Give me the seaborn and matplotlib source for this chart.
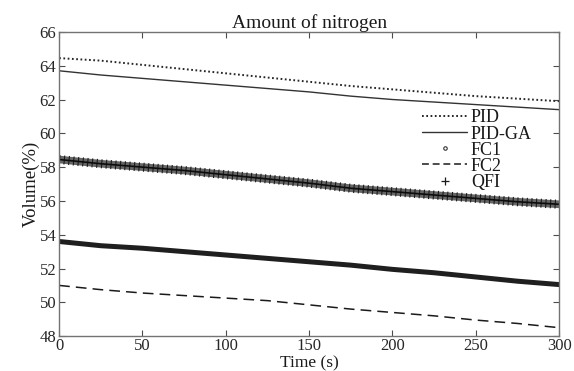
import pandas as pd
import seaborn as sns
import matplotlib.pyplot as plt
from matplotlib.lines import Line2D

# values (every 25 s)
time_s = [0, 25, 50, 75, 100, 125, 150, 175, 200, 225, 250, 275, 300]
pid = [64.45, 64.3, 64.05, 63.8, 63.55, 63.3, 63.05, 62.8, 62.6, 62.4, 62.2, 62.05, 61.9]
pid_ga = [63.7, 63.45, 63.25, 63.05, 62.85, 62.65, 62.45, 62.2, 62.0, 61.85, 61.7, 61.55, 61.4]
fc1 = [53.6, 53.35, 53.2, 53.0, 52.8, 52.6, 52.4, 52.2, 51.95, 51.75, 51.5, 51.25, 51.05]
fc2 = [51.0, 50.75, 50.55, 50.4, 50.25, 50.1, 49.85, 49.6, 49.4, 49.2, 48.95, 48.75, 48.5]
qfi = [58.45, 58.2, 58.0, 57.8, 57.55, 57.3, 57.05, 56.75, 56.55, 56.35, 56.15, 55.95, 55.8]

df = pd.DataFrame({'Time': time_s, 'PID': pid, 'PID-GA': pid_ga,
                   'FC1': fc1, 'FC2': fc2, 'QFI': qfi})

sns.set_style('ticks')
plt.rcParams['font.family'] = ['Liberation Serif', 'DejaVu Serif']

fig = plt.figure(figsize=(5.74, 3.71), dpi=100)
ax = fig.add_axes([0.103, 0.094, 0.871, 0.820])

# PID dotted
sns.lineplot(data=df, x='Time', y='PID', ax=ax, color='0.15', lw=1.4,
             linestyle=(0, (0.9, 1.3)))
# PID-GA solid
sns.lineplot(data=df, x='Time', y='PID-GA', ax=ax, color='0.2', lw=1.0)
# QFI: dense '+' markers -> thick band with vertical strokes
sns.lineplot(data=df, x='Time', y='QFI', ax=ax, color='0.4', lw=5.5)
sns.lineplot(data=df, x='Time', y='QFI', ax=ax, color='0.1', lw=6.5,
             linestyle=(0, (0.12, 0.4)))
sns.lineplot(data=df, x='Time', y='QFI', ax=ax, color='0.05', lw=1.2)
# FC1: dense 'o' markers -> thick dark line
sns.lineplot(data=df, x='Time', y='FC1', ax=ax, color='0.12', lw=3.6)
# FC2 dashed
sns.lineplot(data=df, x='Time', y='FC2', ax=ax, color='0.1', lw=1.1,
             linestyle=(0, (7, 4)))

ax.set_xlim(0, 300)
ax.set_ylim(48, 66)
ax.set_xticks(range(0, 301, 50))
ax.set_yticks(range(48, 67, 2))
ax.tick_params(direction='in', length=4, width=0.8, color='0.3',
               top=True, right=True, labelsize=12, pad=2, labelcolor='0.15')
ax.tick_params(axis='x', pad=1)
for s in ax.spines.values():
    s.set_color('0.45')
    s.set_linewidth(1.0)

ax.set_title('Amount of nitrogen', fontsize=14, pad=3, color='0.1')
ax.set_xlabel('Time (s)', fontsize=12.5, labelpad=1, color='0.1')
ax.set_ylabel('Volume(%)', fontsize=13.5, labelpad=0, color='0.1')

handles = [
    Line2D([], [], color='0.15', lw=1.4, linestyle=(0, (0.9, 1.3))),
    Line2D([], [], color='0.2', lw=1.0),
    Line2D([], [], color='0.2', lw=0, marker='o', ms=2.5, mfc='none', mew=0.8),
    Line2D([], [], color='0.1', lw=1.1, linestyle=(0, (4.5, 2.5))),
    Line2D([], [], color='0.1', lw=0, marker='+', ms=6, mew=0.9),
]
labels = ['PID', 'PID-GA', 'FC1', 'FC2', 'QFI']
leg = ax.legend(handles, labels, loc='upper left', bbox_to_anchor=(0.726, 0.745),
                frameon=False, fontsize=13, handlelength=2.5, handletextpad=0.2,
                labelspacing=-0.05, borderaxespad=0, borderpad=0)
for t in leg.get_texts():
    t.set_color('0.1')

fig.savefig('out.png', dpi=100)
